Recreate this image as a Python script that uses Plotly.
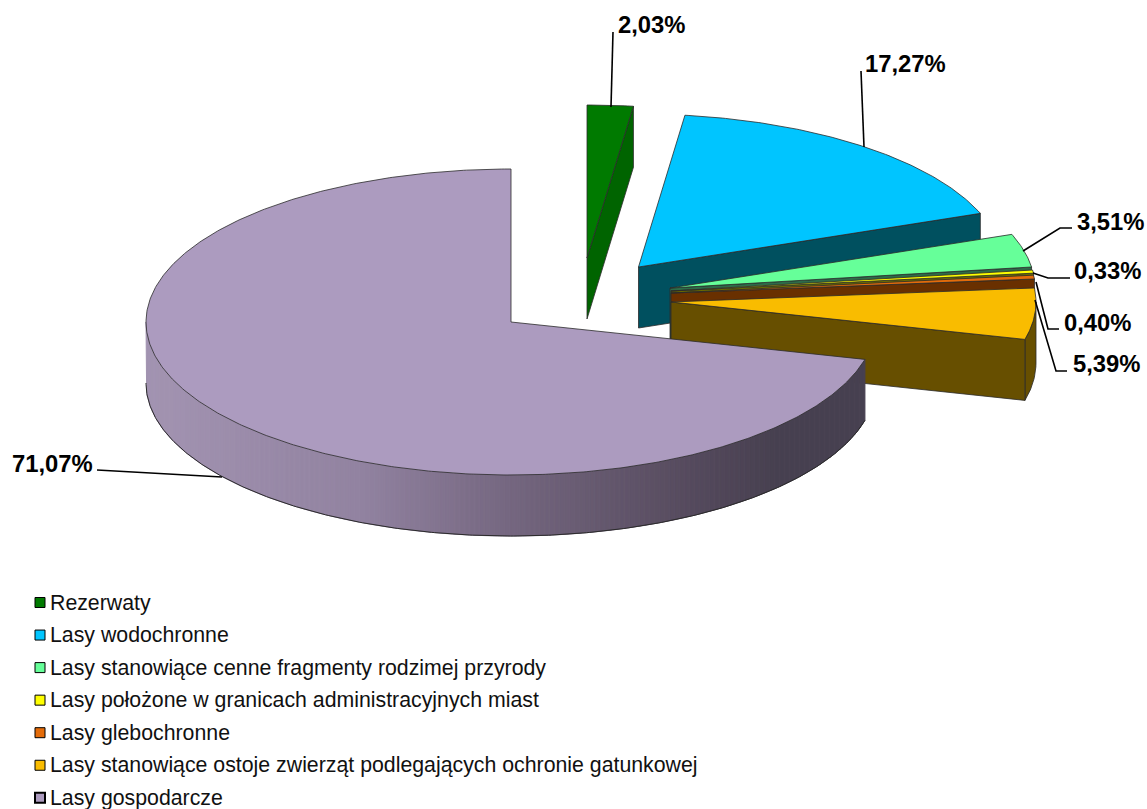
import numpy as np
import plotly.graph_objects as go

# ---- data ----
categories = [
    "Rezerwaty",
    "Lasy wodochronne",
    "Lasy stanowiące cenne fragmenty rodzimej przyrody",
    "Lasy położone w granicach administracyjnych miast",
    "Lasy glebochronne",
    "Lasy stanowiące ostoje zwierząt podlegających ochronie gatunkowej",
    "Lasy gospodarcze",
]
values = [2.03, 17.27, 3.51, 0.33, 0.40, 5.39, 71.07]
top_colors = ["#007A00", "#00C5FF", "#66FF99", "#FFFF00", "#E46C0A", "#F9BC00", "#AC9BBF"]
face_colors = ["#006400", "#00505F", "#2E6B48", "#6B6B00", "#693000", "#674F00", "#46404F"]

# ---- pseudo-3D projection (pixel space) ----
RX, RY, DEPTH = 365, 153, 61
centers = [(587, 258), (638.5, 267), (670, 288), (671, 291), (671, 293), (671, 302), (511, 322)]
label_pos = [(651, 24), (905, 63), (1110, 221), (1107, 270), (1097, 322), (1106, 363), (52, 463)]
leaders = [
    [(613, 32), (611, 107)],
    [(861, 71), (864, 147)],
    [(1023, 251), (1060, 228), (1072, 228)],
    [(1033, 273), (1048, 278), (1070, 278)],
    [(1036, 282), (1048, 329), (1059, 329)],
    [(1035, 300), (1056, 371), (1067, 371)],
    [(97, 470), (222, 477)],
]
LEG_X, LEG_Y, LEG_DY = 40, 602.5, 32.55
EDGE = "#2b2b2b"


def arc(c, a0, a1, dz=0, n=None):
    n = n or max(2, int(abs(a1 - a0) * 2) + 2)
    t = np.radians(np.linspace(a0, a1, n))
    return c[0] + RX * np.sin(t), c[1] - RY * np.cos(t) + dz


fig = go.Figure()


def poly(x, y, fill, line=EDGE, w=0.8):
    fig.add_trace(go.Scatter(
        x=np.r_[x, x[0]], y=np.r_[y, y[0]], mode="lines", fill="toself",
        fillcolor=fill, line=dict(color=line, width=w), hoverinfo="skip", showlegend=False))


def side_shade(px):
    stops_x = [146, 360, 511, 690, 780, 1147]
    stops = np.array([[0xA3, 0x94, 0xB2], [0x92, 0x83, 0xA1], [0x75, 0x67, 0x80],
                      [0x56, 0x4B, 0x5E], [0x47, 0x40, 0x50], [0x47, 0x40, 0x50]])
    return "rgb(%d,%d,%d)" % tuple(np.interp(px, stops_x, stops[:, i]) for i in range(3))


edges = np.r_[0, np.cumsum(values)] * 3.6
edges[-1] = 360
for i, c in enumerate(centers):
    a0, a1 = edges[i], edges[i + 1]
    if i < 6:
        # outer wall on the near half of the ellipse
        if a1 > 90:
            xa, ya = arc(c, max(a0, 90), a1)
            xb, yb = arc(c, a1, max(a0, 90), DEPTH)
            poly(np.r_[xa, xb], np.r_[ya, yb], face_colors[i])
        # radial face at the closing edge
        xe, ye = arc(c, a1, a1, n=2)
        poly(np.array([c[0], xe[0], xe[0], c[0]]),
             np.array([c[1], ye[0], ye[0] + DEPTH, c[1] + DEPTH]), face_colors[i])
    else:
        # shaded wall, split into narrow strips of equal screen width
        xs = np.arange(c[0] + RX * np.sin(np.radians(a0)), c[0] - RX, -2.5)
        strip = 180 - np.degrees(np.arcsin(np.clip((xs - c[0]) / RX, -1, 1)))
        strip = np.r_[a0, strip[1:], 270]
        for s0, s1 in zip(strip[:-1], strip[1:]):
            xa, ya = arc(c, s0, s1, n=4)
            xb, yb = arc(c, s1, s0, DEPTH, n=4)
            col = side_shade(xa.mean())
            poly(np.r_[xa, xb], np.r_[ya, yb], col, line=col, w=1)
        xo, yo = arc(c, a0, 270, DEPTH)
        fig.add_trace(go.Scatter(x=xo, y=yo, mode="lines", line=dict(color=EDGE, width=1),
                                 hoverinfo="skip", showlegend=False))
    # top face
    xt, yt = arc(c, a0, a1)
    poly(np.r_[c[0], xt], np.r_[c[1], yt], top_colors[i])

# leader lines
for pts in leaders:
    fig.add_trace(go.Scatter(x=[p[0] for p in pts], y=[p[1] for p in pts], mode="lines",
                             line=dict(color="black", width=1.6), hoverinfo="skip", showlegend=False))

# percent labels
for v, (lx, ly) in zip(values, label_pos):
    fig.add_annotation(x=lx, y=ly, text="<b>%s%%</b>" % f"{v:.2f}".replace(".", ","),
                       showarrow=False, xanchor="center", yanchor="middle",
                       font=dict(family="Liberation Sans", size=23.8, color="black"))

# legend keys and texts
leg_y = [LEG_Y + k * LEG_DY for k in range(len(categories))]
fig.add_trace(go.Scatter(
    x=[LEG_X] * len(categories), y=leg_y, mode="markers", hoverinfo="skip", showlegend=False,
    marker=dict(symbol="square", size=10, color=top_colors,
                line=dict(color="black", width=[1, 1, 1, 1, 1, 1, 2]))))
for name, y in zip(categories, leg_y):
    fig.add_annotation(x=48, y=y, text=name, showarrow=False, xanchor="left", yanchor="middle",
                       font=dict(family="Liberation Sans", size=21.3, color="#111111"))

fig.update_layout(
    width=1147, height=809, margin=dict(l=0, r=0, t=0, b=0),
    paper_bgcolor="white", plot_bgcolor="white", showlegend=False,
    xaxis=dict(range=[0, 1147], visible=False, fixedrange=True),
    yaxis=dict(range=[809, 0], visible=False, fixedrange=True),
)
fig.write_html("out.html", config=dict(displayModeBar=False),
               post_script="document.body.style.margin='0';document.body.style.overflow='hidden';")
